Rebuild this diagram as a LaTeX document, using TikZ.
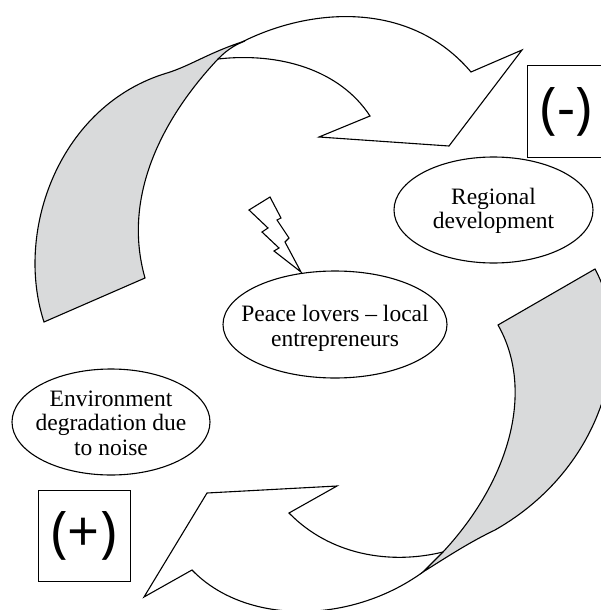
\documentclass[tikz,border=0pt]{standalone}
\usepackage{fontspec}
\setmainfont{Liberation Serif}
\newfontfamily\signfont{Open Sans}
\definecolor{flapgray}{HTML}{D9DADB}
\usetikzlibrary{shapes.geometric}
\tikzset{
  outline/.style={draw=black,line width=1.1pt,line join=miter},
  flap/.style={outline,fill=flapgray},
  bubble/.style={draw=black,line width=1.1pt,ellipse,inner sep=0pt},
  bubbletext/.style={inner sep=0pt,align=center,font=\fontsize{23.5}{24.5}\selectfont},
  signbox/.style={draw=black,line width=1pt,inner sep=0pt,font=\signfont\fontsize{56}{56}\selectfont}
}
\begin{document}
\begin{tikzpicture}[x=1pt,y=-1pt]
\useasboundingbox (0,0) rectangle (601,610);
\clip (0,0) rectangle (601,610);
% top arrow
\draw[flap] (44,322) .. controls (14,230) and (60,105) .. (167,73)
  .. controls (190,66) and (210,52) .. (245,41)
  .. controls (232,46) and (225,52) .. (218,59)
  .. controls (170,110) and (120,190) .. (145,278) -- cycle;
\draw[outline] (240,43) .. controls (310,7) and (410,0) .. (471,72)
  -- (522,50) -- (449,146) -- (319,137) -- (370,116)
  .. controls (340,70) and (280,52) .. (218,59);
% bottom arrow
\draw[flap] (498,325) -- (595,269) .. controls (636,345) and (604,468) .. (495,530)
  .. controls (470,542) and (450,555) .. (423,572)
  -- (443,552) .. controls (510,480) and (535,390) .. (498,325) -- cycle;
\draw[outline] (423,572) .. controls (350,625) and (245,625) .. (192,570)
  -- (144,597) -- (207,493) -- (337,486) -- (289,513)
  .. controls (330,555) and (390,565) .. (443,552);
% bolt
\draw[outline] (270,197) -- (249,210) -- (268,228) -- (262,232) -- (279,248) -- (274,251) -- (301,272)
  -- (285,242) -- (289,238) -- (277,220) -- (281,218) -- cycle;
% bubbles
\node[bubble,minimum width=199pt,minimum height=106pt] (regional) at (493.5,210) {};
\node[bubbletext] (regionaltext) at (493.5,211) {Regional\\development};
\node[bubble,minimum width=224pt,minimum height=107pt] (peace) at (335,324.5) {};
\node[bubbletext] (peacetext) at (335,328.5) {Peace lovers -- local\\entrepreneurs};
\node[bubble,minimum width=198pt,minimum height=106pt] (environment) at (111,422) {};
\node[bubbletext] (environmenttext) at (111,423) {Environment\\degradation due\\to noise};
% signs
\node[signbox,minimum width=78pt,minimum height=91pt] (minus) at (566,111.5) {(-)};
\node[signbox,minimum width=92pt,minimum height=91pt] (plus) at (84,535.5) {(+)};
\end{tikzpicture}
\end{document}
